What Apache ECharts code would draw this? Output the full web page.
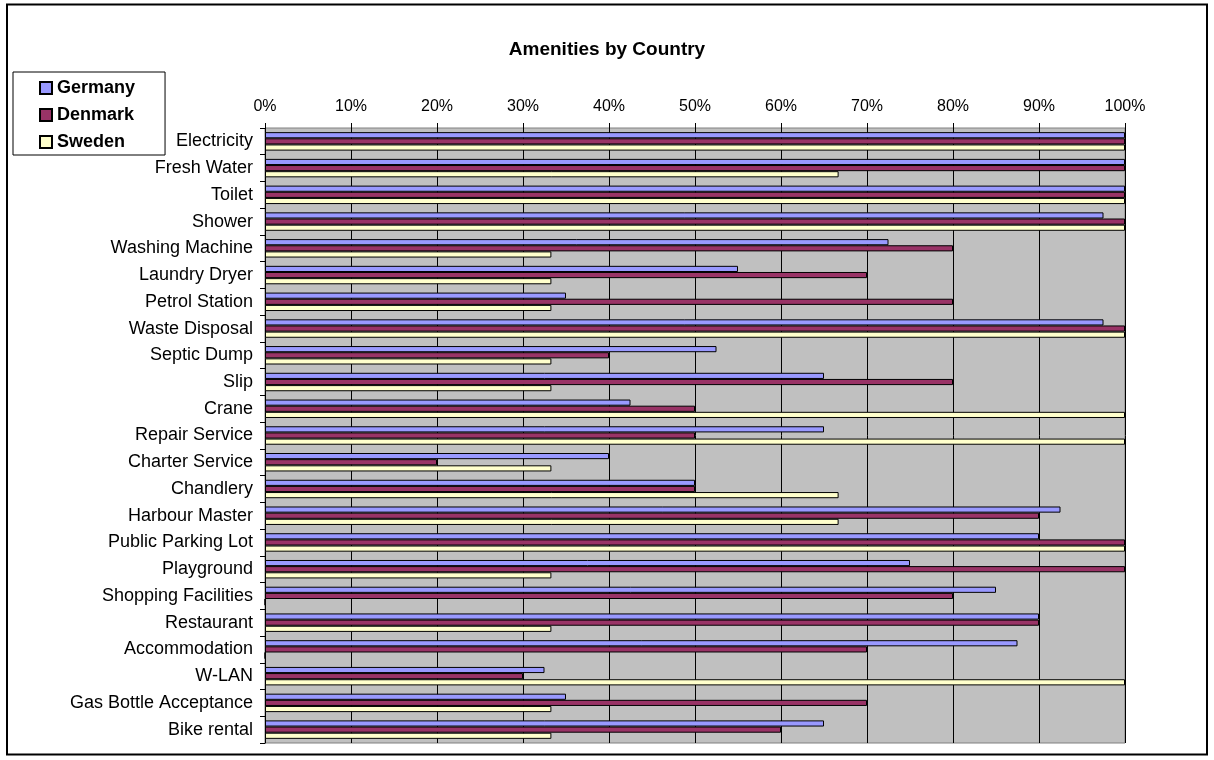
<!DOCTYPE html>
<html>
<head>
<meta charset="utf-8">
<script src="https://cdn.jsdelivr.net/npm/echarts@6/dist/echarts.min.js"></script>
<style>
html,body{margin:0;padding:0;background:#fff;}
#chart{width:1214px;height:760px;}
</style>
</head>
<body>
<div id="chart"></div>
<script>
var categories = ["Electricity","Fresh Water","Toilet","Shower","Washing Machine","Laundry Dryer","Petrol Station","Waste Disposal","Septic Dump","Slip","Crane","Repair Service","Charter Service","Chandlery","Harbour Master","Public Parking Lot","Playground","Shopping Facilities","Restaurant","Accommodation","W-LAN","Gas Bottle Acceptance","Bike rental"];
var germany = [100,100,100,97.5,72.5,55,35,97.5,52.5,65,42.5,65,40,50,92.5,90,75,85,90,87.5,32.5,35,65];
var denmark = [100,100,100,100,80,70,80,100,40,80,50,50,20,50,90,100,100,80,90,70,30,70,60];
var sweden = [100,66.7,100,100,33.3,33.3,33.3,100,33.3,33.3,100,100,33.3,66.7,66.7,100,33.3,0,33.3,0,100,33.3,33.3];
var seriesNames = ["Germany","Denmark","Sweden"];
var tickValues = [0,10,20,30,40,50,60,70,80,90,100];

var FONT = "'Liberation Sans', Arial, sans-serif";
var colors = ['#9999FF','#993366','#FFFFCC'];
var chart = echarts.init(document.getElementById('chart'));
function mk(name, data, color){
  return {
    name: name, type: 'bar', data: data,
    barCategoryGap: '31%', barGap: '0%',
    itemStyle: {color: color, borderColor: '#000', borderWidth: 1},
    emphasis: {disabled: true},
    animation: false
  };
}
chart.setOption({
  animation: false,
  textStyle: {fontFamily: FONT},
  graphic: [{
    type: 'rect', shape: {x: 7, y: 4.5, width: 1200, height: 750},
    style: {fill: 'none', stroke: '#000', lineWidth: 2}, silent: true
  }],
  title: {
    text: 'Amenities by Country', left: 'center', top: 35,
    textStyle: {fontFamily: FONT, fontSize: 19, fontWeight: 'bold', color: '#000'}
  },
  legend: {
    orient: 'vertical', left: 13, top: 72,
    data: seriesNames,
    icon: 'rect', itemWidth: 12, itemHeight: 12, itemGap: 9,
    padding: [7, 30, 4, 26],
    borderColor: '#000', borderWidth: 1, backgroundColor: '#fff',
    textStyle: {fontFamily: FONT, fontSize: 18, fontWeight: 'bold', color: '#000'},
    selectedMode: false
  },
  grid: {
    left: 265, top: 128, width: 860, height: 615,
    show: true, backgroundColor: '#C0C0C0', borderColor: '#808080', borderWidth: 1,
    containLabel: false
  },
  xAxis: {
    type: 'value', position: 'top', min: 0, max: 100, interval: 10,
    axisLine: {show: false},
    axisTick: {show: true, length: 5, lineStyle: {color: '#000'}},
    axisLabel: {formatter: function(v){ return tickValues.indexOf(v) >= 0 ? v + '%' : ''; },
      fontFamily: FONT, fontSize: 16, color: '#000', margin: 13},
    splitLine: {show: true, lineStyle: {color: '#000', width: 1}}
  },
  yAxis: {
    type: 'category', data: categories, inverse: true,
    axisLine: {show: true, lineStyle: {color: '#000'}},
    axisTick: {show: true, length: 5, lineStyle: {color: '#000'}},
    axisLabel: {fontFamily: FONT, fontSize: 18, color: '#000', margin: 12},
    splitLine: {show: false}
  },
  series: [mk(seriesNames[0], germany, colors[0]), mk(seriesNames[1], denmark, colors[1]), mk(seriesNames[2], sweden, colors[2])]
});
</script>
</body>
</html>
